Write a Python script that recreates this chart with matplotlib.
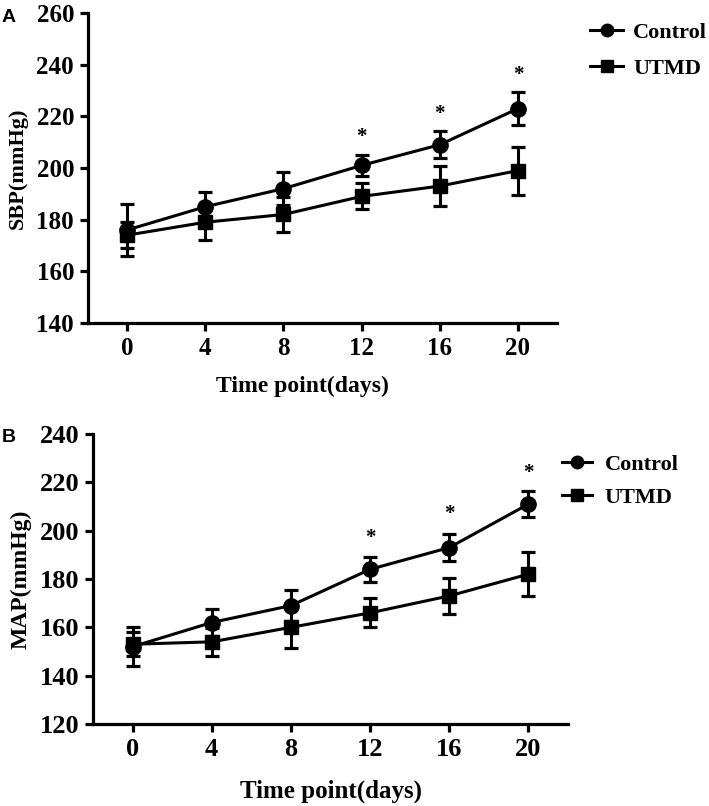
import matplotlib
matplotlib.use("Agg")
import matplotlib.pyplot as plt
from matplotlib.lines import Line2D

days = [0, 4, 8, 12, 16, 20]

# Panel A: SBP (mmHg)
sbp_control = [176, 185, 192, 201, 209, 223]
sbp_control_err = [10, 5.7, 6.5, 4.2, 5.3, 6.3]
sbp_utmd = [174, 179, 182, 189, 193, 199]
sbp_utmd_err = [5, 6.7, 6.9, 5, 7.7, 9.3]
sbp_star_days = [12, 16, 20]
sbp_star_y = [212, 221, 236]

# Panel B: MAP (mmHg)
map_control = [152, 162, 169, 184, 193, 211]
map_control_err = [8, 5.5, 6.4, 5.2, 5.5, 5.3]
map_utmd = [153, 154, 160, 166, 173, 182]
map_utmd_err = [5, 5.8, 8.5, 6, 7.6, 9.2]
map_star_days = [12, 16, 20]
map_star_y = [197, 207, 224]

series_names = ["Control", "UTMD"]

plt.rcParams['font.family'] = ['Liberation Serif', 'DejaVu Serif']
plt.rcParams['font.weight'] = 'bold'

W, H = 709, 806
fig = plt.figure(figsize=(W / 100, H / 100), dpi=100)


def px_axes(left, top, right, bottom):
    return fig.add_axes([left / W, 1 - bottom / H, (right - left) / W, (bottom - top) / H])


def style(ax, ylim, yticks, fs):
    ax.set_xlim(-2, 22)
    ax.set_ylim(*ylim)
    ax.set_xticks(days)
    ax.set_yticks(yticks)
    for s in ['top', 'right']:
        ax.spines[s].set_visible(False)
    for s in ['left', 'bottom']:
        ax.spines[s].set_linewidth(2.3)
    ax.tick_params(direction='out', length=6, width=2.3, labelsize=fs, pad=4)
    for lab in ax.get_xticklabels() + ax.get_yticklabels():
        lab.set_fontweight('bold')


def draw(ax, c, ce, u, ue, sd, sy, fs):
    kw = dict(color='black', lw=2.2, elinewidth=2.2, capsize=5, capthick=2.3)
    ax.errorbar(days, c, yerr=ce, fmt='-o', ms=11, **kw)
    ax.errorbar(days, u, yerr=ue, fmt='-s', ms=10, **kw)
    for d, y in zip(sd, sy):
        ax.text(d, y, '*', ha='center', va='center', fontsize=fs, fontweight='bold')


def legend(ax, x, y, hl, tp, ls, fs):
    handles = [Line2D([], [], color='black', lw=2.2, marker='o', ms=9),
               Line2D([], [], color='black', lw=2.2, marker='s', ms=9)]
    leg = ax.legend(handles, series_names, loc='upper left', bbox_to_anchor=(x / W, 1 - y / H),
                    bbox_transform=fig.transFigure, frameon=False, borderpad=0, borderaxespad=0,
                    handlelength=hl, handletextpad=tp, labelspacing=ls,
                    prop={'family': 'Liberation Serif', 'weight': 'bold', 'size': fs})
    return leg


# Panel A
axA = px_axes(88, 13, 557, 323)
style(axA, (140, 260), [140, 160, 180, 200, 220, 240, 260], 18)
draw(axA, sbp_control, sbp_control_err, sbp_utmd, sbp_utmd_err, sbp_star_days, sbp_star_y, 15)
axA.set_ylabel('SBP(mmHg)', fontsize=16, fontweight='bold', labelpad=6)
axA.set_xlabel('Time point(days)', fontsize=17, fontweight='bold')
axA.xaxis.set_label_coords(0.458, -0.171)
legend(axA, 590, 22, 1.5, 0.45, 0.72, 16)
fig.text(2 / W, 1 - 18 / H, 'A', family='Liberation Sans', fontweight='bold', fontsize=14,
         ha='left', va='center')

# Panel B
axB = px_axes(93, 434, 568, 724)
style(axB, (120, 240), [120, 140, 160, 180, 200, 220, 240], 19)
draw(axB, map_control, map_control_err, map_utmd, map_utmd_err, map_star_days, map_star_y, 15)
axB.set_ylabel('MAP(mmHg)', fontsize=17, fontweight='bold', labelpad=6)
axB.set_xlabel('Time point(days)', fontsize=18, fontweight='bold')
axB.xaxis.set_label_coords(0.501, -0.193)
legend(axB, 562, 454, 1.35, 0.58, 0.58, 16)
fig.text(2 / W, 1 - 438 / H, 'B', family='Liberation Sans', fontweight='bold', fontsize=14,
         ha='left', va='center')

fig.savefig('out.png', dpi=100)
